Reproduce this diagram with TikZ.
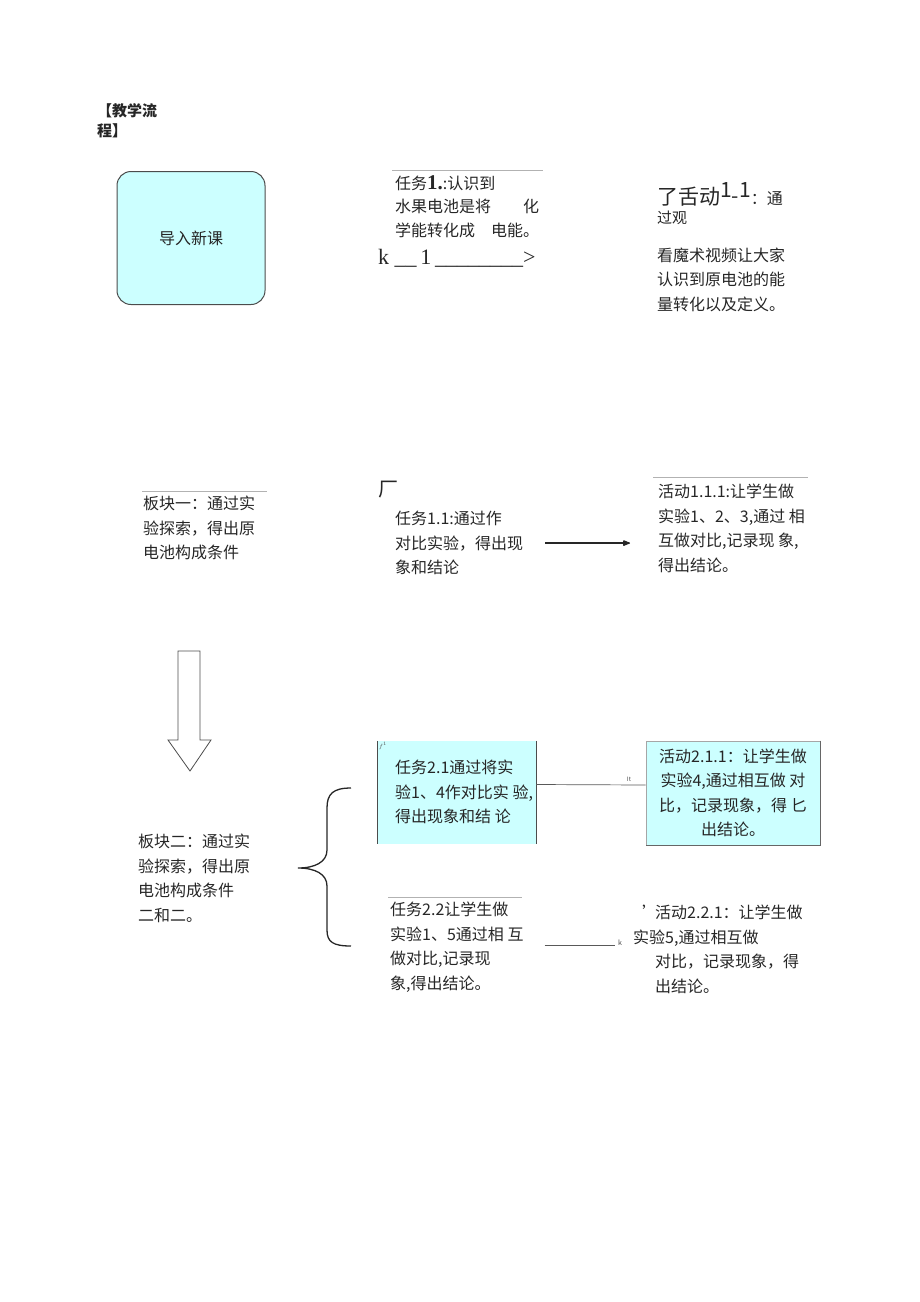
\documentclass[tikz,border=0pt]{standalone}
\usepackage{fontspec}
\setmainfont{Noto Sans CJK SC}
\newfontfamily\serifnum{Liberation Serif}
\usetikzlibrary{arrows.meta, positioning}
\tikzset{>={Latex[round]}}
\definecolor{palecyan}{HTML}{CCFFFF}

\begin{document}
\begin{tikzpicture}[
  x=1pt, y=-1pt,
  txt/.style={anchor=north west, inner sep=0pt, align=left, font=\fontsize{16}{24.5}\selectfont, text=black!85},
  rulestyle/.style={gray!60, line width=0.9pt},
  linkstyle/.style={gray!70!black, line width=0.7pt},
  tinystyle/.style={inner sep=0pt, font=\fontsize{6}{6}\selectfont, text=black!70},
  roundbox/.style={draw=black!70, fill=palecyan, rounded corners=14pt, line width=1pt, minimum width=148pt, minimum height=133pt, font=\fontsize{16}{20}\selectfont, text=black!85},
  cellbox/.style={fill=palecyan, inner sep=0pt, minimum width=158pt, minimum height=103pt},
  actbox/.style={draw=gray!70, fill=palecyan, line width=0.8pt, inner sep=0pt, minimum width=174pt, minimum height=104pt, align=center, font=\fontsize{16}{24.5}\selectfont, text=black!85}
]
\useasboundingbox (0,0) rectangle (920,1302);

% Title
\node[txt, font=\fontsize{15}{20}\selectfont\bfseries] (title) at (97,103) {【教学流\\程】};

% Intro box
\node[roundbox, text depth=-8pt] (intro) at (191,238) {导入新课};

% Task 1 and activity 1-1 (top row)
\draw[rulestyle] (392,170) -- (543,170);
\node[txt, font=\fontsize{16}{23.5}\selectfont] (task1) at (395,175) {任务{\serifnum\bfseries\fontsize{21}{21}\selectfont 1.}:认识到\\水果电池是将　　化\\学能转化成　电能。};
\node[anchor=base west, inner sep=0pt, font=\serifnum\fontsize{22}{22}\selectfont, text=black!85] (task1end) at (378,264) {k \_\_\,1\,\_\_\_\_\_\_\_\_>};

% base anchor sits on the last line here
\node[anchor=base west, inner sep=0pt, align=left, font=\fontsize{16}{24}\selectfont, text=black!85] (act1) at (657,223)
  {{\fontsize{21}{21}\selectfont 了舌动\raisebox{7pt}{1}\raisebox{1pt}{-}\raisebox{7pt}{1}}：通\\[-5pt]{\fontsize{15}{15}\selectfont 过观}};
\node[txt, below=23pt of act1.south west, anchor=north west] (act1c) {看魔术视频让大家\\认识到原电池的能\\量转化以及定义。};

% Block 1 row
\draw[rulestyle] (142,491) -- (267,491);
\node[txt] (block1) at (143,496) {板块一：通过实\\验探索，得出原\\电池构成条件};

\node[inner sep=0pt, font=\fontsize{20}{20}\selectfont, text=black!85] (chang) at (388,490) {厂};
\node[txt] (task11) at (395,511) {任务1.1:通过作\\对比实验，得出现\\象和结论};

\draw[rulestyle] (653,477) -- (808,477);
\node[txt] (act111) at (658,484) {活动1.1.1:让学生做\\实验1、2、3,通过 相\\互做对比,记录现 象,\\得出结论。};

\draw[->, line width=1.3pt, black!85, shorten <=22pt, shorten >=28pt] (task11.east) -- (task11.east -| act111.west);

% Hollow down arrow
\draw[gray!60!black, line width=0.8pt] (178,651) -- (200,651) -- (200,740) -- (211,740) -- (190,771) -- (168,740) -- (178,740) -- cycle;

% Block 2 with brace
\node[txt] (block2) at (138,834) {板块二：通过实\\验探索，得出原\\电池构成条件\\二和二。};

\draw[black!85, line width=1.3pt] (351,788) .. controls (333,788) and (327,794) .. (327,808) -- (327,850)
  .. controls (327,862) and (315,868) .. (298,868) .. controls (315,868) and (327,874) .. (327,886)
  -- (327,930) .. controls (327,942) and (333,946) .. (351,946);

% Task 2.1 and activity 2.1.1
\node[cellbox] (task21box) at (457,792.5) {};
\draw[gray!60!black, line width=0.8pt] (task21box.north west) -- (task21box.south west);
\draw[gray!60!black, line width=0.8pt] (task21box.north east) -- (task21box.south east);
\node[tinystyle] (fmark) at (383,746) {$f^{1}$};
\node[txt] (task21) at (395,760) {任务2.1通过将实\\验1、4作对比实 验,\\得出现象和结 论};

\node[actbox] (act211) at (733,793) {活动2.1.1：让学生做\\实验4,通过相互做 对\\比，记录现象，得 匕\\出结论。};
\draw[black!60, line width=1.2pt] (act211.north east) -- (act211.south east) -- (act211.south west);

\draw[linkstyle] ([yshift=8pt]task21box.east) -- ([yshift=8pt]act211.west);
\node[tinystyle] (itmark) at (629,779) {It};

% Task 2.2 and activity 2.2.1
\draw[rulestyle] (388,897) -- (522,897);
\node[txt] (task22) at (390,902) {任务2.2让学生做\\实验1、5通过相 互\\做对比,记录现\\象,得出结论。};

\node[txt] (act221) at (633,905) {\hspace{9pt}’\hspace{-3pt}活动2.2.1：让学生做\\实验5,通过相互做\\\hspace{22pt}对比，记录现象，得\\\hspace{22pt}出结论。};

\draw[linkstyle, line width=0.5pt, shorten <=21pt, shorten >=18pt] ([yshift=2pt]task22.east) -- ([yshift=2pt]task22.east -| act221.west);
\node[tinystyle, font=\fontsize{7}{7}\selectfont] (kmark) at (620,943) {k};

\end{tikzpicture}
\end{document}
